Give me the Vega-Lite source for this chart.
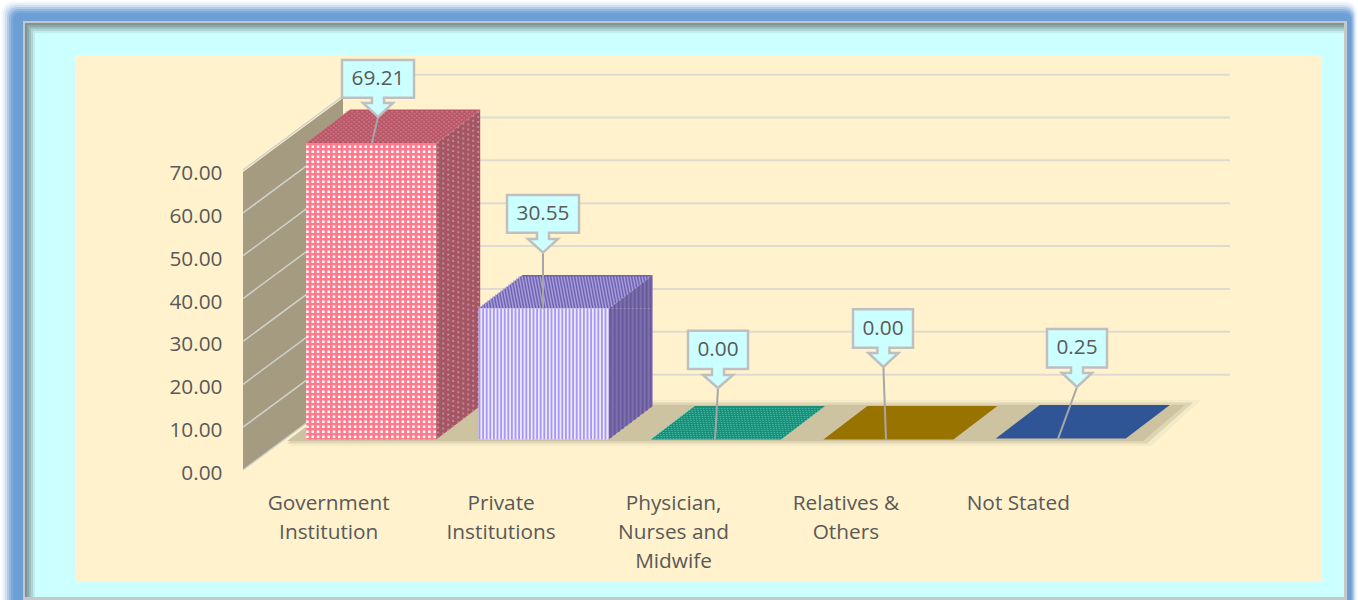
{"$schema":"https://vega.github.io/schema/vega-lite/v6.json","width":862,"height":300,"autosize":{"type":"none"},"padding":{"left":244,"top":172,"right":252,"bottom":128},"background":"#FFFFFF","view":{"stroke":null},"config":{"point":{"opacity":1,"size":4,"filled":true},"text":{"font":"Open Sans","fontSize":20.8,"fill":"#595959"}},"datasets":{"bars":[{"category":"Government Institution","value":69.21},{"category":"Private Institutions","value":30.55},{"category":"Physician, Nurses and Midwife","value":0},{"category":"Relatives & Others","value":0},{"category":"Not Stated","value":0.25}],"ticks":[{"tick":0},{"tick":10},{"tick":20},{"tick":30},{"tick":40},{"tick":50},{"tick":60},{"tick":70},{"tick":80}]},"data":{"name":"bars"},"encoding":{"x":{"field":"category","type":"nominal","sort":null,"scale":{"type":"band","domain":["Government Institution","Private Institutions","Physician, Nurses and Midwife","Relatives & Others","Not Stated"],"paddingInner":0,"paddingOuter":0},"axis":{"title":null,"zindex":1,"domain":false,"ticks":false,"grid":false,"labelAngle":0,"labelLimit":300,"labelFont":"Open Sans","labelFontSize":20.8,"labelColor":"#595959","labelPadding":21,"labelBaseline":"top","labelLineHeight":29,"labelOffset":-1.5,"labelExpr":"datum.label=='Government Institution'?['Government','Institution']:datum.label=='Private Institutions'?['Private','Institutions']:datum.label=='Physician, Nurses and Midwife'?['Physician,','Nurses and','Midwife']:datum.label=='Relatives & Others'?['Relatives &','Others']:datum.label"}},"y":{"field":"value","type":"quantitative","scale":{"domain":[0,70],"nice":false},"axis":{"title":null,"zindex":1,"domain":false,"ticks":false,"grid":false,"values":[0,10,20,30,40,50,60,70],"format":".2f","labelFont":"Open Sans","labelFontSize":20.8,"labelColor":"#595959","labelPadding":22,"labelOffset":1.5}}},"resolve":{"scale":{"fill":"independent","shape":"independent"}},"layer":[
{"transform":[{"filter":"datum.category=='Physician, Nurses and Midwife'"}],"encoding":{"y":{"datum":35}},"layer":[
{"mark":{"type":"point","shape":"M-660,-321H668Q682,-321 682,-307V300H-674V-307Q-674,-321 -660,-321Z","fill":"#F6F9FD"}},
{"mark":{"type":"point","shape":"M-659,-319H668Q681,-319 681,-306V300H-672V-306Q-672,-319 -659,-319Z","fill":"#E6EEF8"}},
{"mark":{"type":"point","shape":"M-658,-317H668Q680,-317 680,-305V300H-670V-305Q-670,-317 -658,-317Z","fill":"#CFE0F1"}},
{"mark":{"type":"point","shape":"M-657,-315H668Q679,-315 679,-304V300H-668V-304Q-668,-315 -657,-315Z","fill":"#B0CBE8"}},
{"mark":{"type":"point","shape":"M-656,-313H668Q678,-313 678,-303V300H-666V-303Q-666,-313 -656,-313Z","fill":"#92B7E0"}},
{"mark":{"type":"point","shape":"M-655,-311H668Q677,-311 677,-302V300H-664V-302Q-664,-311 -655,-311Z","fill":"#7BA8DA"}},
{"mark":{"type":"point","shape":"M-654,-309H668Q676,-309 676,-301V300H-662V-301Q-662,-309 -654,-309Z","fill":"#6B9FD6"}},
{"mark":{"type":"point","shape":"M-652,-301H672V278H-652Z","fill":"#C4C8C8"}},
{"mark":{"type":"point","shape":"M-650,-299H669V275H-650Z","fill":"#7A9594"}},
{"mark":{"type":"point","shape":"M-648,-297H669V275H-648Z","fill":"#8AA8A7"}},
{"mark":{"type":"point","shape":"M-646,-295H669V275H-646Z","fill":"#9CBFBE"}},
{"mark":{"type":"point","shape":"M-644,-293H669V275H-644Z","fill":"#AED5D5"}},
{"mark":{"type":"point","shape":"M-642,-291H669V275H-642Z","fill":"#BFEDED"}},
{"mark":{"type":"point","shape":"M-640,-289H669V275H-640Z","fill":"#CCFFFF"}},
{"mark":{"type":"point","shape":"M-600,-267H646V260H-600Z","fill":"#FFF2CC"}}
]},
{"transform":[{"filter":"datum.category=='Physician, Nurses and Midwife'"}],"mark":{"type":"point","shape":"M-385,-26H476L526,-72H-340Z","fill":"#F4EAC6"},"encoding":{"y":{"datum":0}}},
{"transform":[{"filter":"datum.category=='Physician, Nurses and Midwife'"}],"mark":{"type":"point","shape":"M-388,-28.5H472L518,-69.5H-340Z","fill":"#DFD5B4"},"encoding":{"y":{"datum":0}}},
{"transform":[{"filter":"datum.category=='Physician, Nurses and Midwife'"}],"mark":{"type":"point","shape":"M-388,-31H468L510,-67H-340Z","fill":"#CDC3A0"},"encoding":{"y":{"datum":0}}},
{"data":{"name":"ticks"},"transform":[{"filter":"datum.tick>=10"}],"mark":{"type":"point","filled":false,"shape":"M-325,0H555","stroke":"#DEDBD2","strokeWidth":2,"yOffset":-54.5},"encoding":{"x":{"datum":"Physician, Nurses and Midwife"},"y":{"field":"tick","type":"quantitative"}}},
{"transform":[{"filter":"datum.category=='Physician, Nurses and Midwife'"}],"mark":{"type":"point","shape":"M-432,-300L-332,-374V-76L-432,-2Z","fill":"#A59B80"},"encoding":{"y":{"datum":0}}},
{"data":{"name":"ticks"},"transform":[{"filter":"datum.tick<=70"}],"mark":{"type":"point","filled":false,"shape":"M-87.2,0L12.8,-74","stroke":"#D0D0CC","strokeWidth":1.5,"yOffset":-2},"encoding":{"x":{"datum":"Government Institution"},"y":{"field":"tick","type":"quantitative"}}},
{"transform":[{"filter":"datum.value>1"}],"mark":{"type":"bar","width":44,"xOffset":128,"yOffset":-32.5,"y2Offset":-66},"encoding":{"y2":{"datum":0},"fill":{"field":"category","type":"nominal","legend":null,"scale":{"domain":["Government Institution","Private Institutions"],"range":["#A65565","#7F71B0"]}}}},
{"transform":[{"filter":"datum.value>1"}],"mark":{"type":"point","shape":"M65,0L109,-33.5V0Z","xOffset":41,"yOffset":-32.5},"encoding":{"fill":{"field":"category","type":"nominal","legend":null,"scale":{"domain":["Government Institution","Private Institutions"],"range":["#A65565","#7F71B0"]}}}},
{"transform":[{"filter":"datum.value>1"}],"mark":{"type":"point","shape":"M65,0L109,-33.5H65Z","xOffset":41,"yOffset":-32.5},"encoding":{"y":{"datum":0},"fill":{"field":"category","type":"nominal","legend":null,"scale":{"domain":["Government Institution","Private Institutions"],"range":["#A65565","#7F71B0"]}}}},
{"transform":[{"filter":"datum.category=='Government Institution'"}],"mark":{"type":"point","filled":false,"shape":"M67,-1.5V295M72,-5.3V291.3M77,-9.1V287.5M82,-12.9V283.7M87,-16.7V279.9M92,-20.5V276.1M97,-24.3V272.3M102,-28.1V268.5M107,-31.9V264.7","stroke":"#C08A92","strokeWidth":2,"strokeDash":[2,3],"xOffset":41,"yOffset":-32.5}},
{"transform":[{"filter":"datum.category=='Private Institutions'"}],"mark":{"type":"point","filled":false,"shape":"M67,-1.5V129.4M71,-4.6V126.3M75,-7.6V123.3M79,-10.6V120.3M83,-13.7V117.2M87,-16.7V114.2M91,-19.8V111.1M95,-22.8V108.1M99,-25.8V105.1M103,-28.9V102M107,-31.9V99","stroke":"#675A9A","strokeWidth":2,"xOffset":41,"yOffset":-32.5}},
{"mark":{"type":"point","shape":"M-65,0H65L109,-33.5H-21Z","xOffset":41,"yOffset":-32.5},"encoding":{"fill":{"field":"category","type":"nominal","legend":null,"scale":{"domain":["Government Institution","Private Institutions","Physician, Nurses and Midwife","Relatives & Others","Not Stated"],"range":["#B95566","#6F62B0","#1D8C78","#997300","#2F5597"]}}}},
{"transform":[{"filter":"datum.category=='Government Institution'"}],"mark":{"type":"point","filled":false,"shape":"M-64.2,-1H66.8M-61.6,-3H69.4M-59,-5H72M-56.4,-7H74.6M-53.8,-9H77.2M-51.2,-11H79.8M-48.6,-13H82.4M-46,-15H85M-43.3,-17H87.7M-40.7,-19H90.3M-38.1,-21H92.9M-35.5,-23H95.5M-32.9,-25H98.1M-30.3,-27H100.7M-27.7,-29H103.3M-25.1,-31H105.9","stroke":"#CE8A94","strokeWidth":1,"strokeDash":[2,3],"xOffset":41,"yOffset":-32.5}},
{"transform":[{"filter":"datum.category=='Private Institutions'"}],"mark":{"type":"point","filled":false,"shape":"M-64.2,-1H66.8M-61.6,-3H69.4M-59,-5H72M-56.4,-7H74.6M-53.8,-9H77.2M-51.2,-11H79.8M-48.6,-13H82.4M-46,-15H85M-43.3,-17H87.7M-40.7,-19H90.3M-38.1,-21H92.9M-35.5,-23H95.5M-32.9,-25H98.1M-30.3,-27H100.7M-27.7,-29H103.3M-25.1,-31H105.9","stroke":"#A99EDD","strokeWidth":2,"strokeDash":[1.5,1.5],"xOffset":41,"yOffset":-32.5}},
{"transform":[{"filter":"datum.category=='Physician, Nurses and Midwife'"}],"mark":{"type":"point","filled":false,"shape":"M-64.2,-1H66.8M-61.6,-3H69.4M-59,-5H72M-56.4,-7H74.6M-53.8,-9H77.2M-51.2,-11H79.8M-48.6,-13H82.4M-46,-15H85M-43.3,-17H87.7M-40.7,-19H90.3M-38.1,-21H92.9M-35.5,-23H95.5M-32.9,-25H98.1M-30.3,-27H100.7M-27.7,-29H103.3M-25.1,-31H105.9","stroke":"#3FB8A2","strokeWidth":1,"strokeDash":[1.5,1.5],"xOffset":41,"yOffset":-32.5}},
{"transform":[{"filter":"datum.value>1"}],"mark":{"type":"bar","width":130,"xOffset":41,"yOffset":-32.5,"y2Offset":-32.5},"encoding":{"y2":{"datum":0},"fill":{"field":"category","type":"nominal","legend":null,"scale":{"domain":["Government Institution","Private Institutions"],"range":["#FF7A8D","#EDE9FF"]}}}},
{"transform":[{"filter":"datum.category=='Government Institution'"}],"mark":{"type":"point","filled":false,"shape":"M-65,148.3H65","stroke":"#FFFFFF","strokeWidth":296.6,"strokeDash":[2.5,2.8],"xOffset":41,"yOffset":-32.5}},
{"transform":[{"filter":"datum.category=='Government Institution'"}],"mark":{"type":"point","filled":false,"shape":"M0,0V296.6","stroke":"#FF7A8D","strokeWidth":130,"strokeDash":[2.6,2.4],"xOffset":41,"yOffset":-32.5}},
{"transform":[{"filter":"datum.category=='Private Institutions'"}],"mark":{"type":"point","filled":false,"shape":"M-65,65.45H65","stroke":"#A796F5","strokeWidth":130.9,"strokeDash":[1.8,1.8],"xOffset":41,"yOffset":-32.5}},
{"mark":{"type":"point","filled":false,"stroke":"#A6A6A6","strokeWidth":2,"xOffset":41,"yOffset":-32.5},"encoding":{"shape":{"field":"category","type":"nominal","legend":null,"scale":{"domain":["Government Institution","Private Institutions","Physician, Nurses and Midwife","Relatives & Others","Not Stated"],"range":["M6.8,-26L0.5,1","M-0.6,-55.9L-0.6,0","M2,-51.5L-1,0","M-5,-72.5L-2.4,0","M16.2,-51.4L-3,1"]}}}},
{"mark":{"type":"point","fill":"#CCFFFF","stroke":"#BFBFBF","strokeWidth":2.5,"xOffset":41,"yOffset":-32.5},"encoding":{"shape":{"field":"category","type":"nominal","legend":null,"scale":{"domain":["Government Institution","Private Institutions","Physician, Nurses and Midwife","Relatives & Others","Not Stated"],"range":["M-29.2,-82.9H42.8V-45.2H12.8V-39.9H21.8L6.8,-26L-8.2,-39.9H0.8V-45.2H-29.2Z","M-36.6,-113.6H35.4V-75.9H5.4V-69.6H14.4L-0.6,-55.9L-15.6,-69.6H-6.6V-75.9H-36.6Z","M-28,-108.8H32V-70.5H8V-64.5H17L2,-51.5L-13,-64.5H-4V-70.5H-28Z","M-35.4,-130.2H24.6V-91.8H1V-86.5H10L-5,-72.5L-20,-86.5H-11V-91.8H-35.4Z","M-13.8,-109.4H46.2V-70.9H22.2V-65.4H31.2L16.2,-51.4L1.2,-65.4H10.2V-70.9H-13.8Z"]}}}},
{"transform":[{"filter":"datum.category=='Government Institution'"}],"mark":{"type":"text","baseline":"middle","dx":47.8,"dy":-96.5},"encoding":{"text":{"field":"value","type":"quantitative","format":".2f"}}},
{"transform":[{"filter":"datum.category=='Private Institutions'"}],"mark":{"type":"text","baseline":"middle","dx":40.4,"dy":-127.2},"encoding":{"text":{"field":"value","type":"quantitative","format":".2f"}}},
{"transform":[{"filter":"datum.category=='Physician, Nurses and Midwife'"}],"mark":{"type":"text","baseline":"middle","dx":43,"dy":-122.1},"encoding":{"text":{"field":"value","type":"quantitative","format":".2f"}}},
{"transform":[{"filter":"datum.category=='Relatives & Others'"}],"mark":{"type":"text","baseline":"middle","dx":35.6,"dy":-143.5},"encoding":{"text":{"field":"value","type":"quantitative","format":".2f"}}},
{"transform":[{"filter":"datum.category=='Not Stated'"}],"mark":{"type":"text","baseline":"middle","dx":57.2,"dy":-122.6},"encoding":{"text":{"field":"value","type":"quantitative","format":".2f"}}}
]}
